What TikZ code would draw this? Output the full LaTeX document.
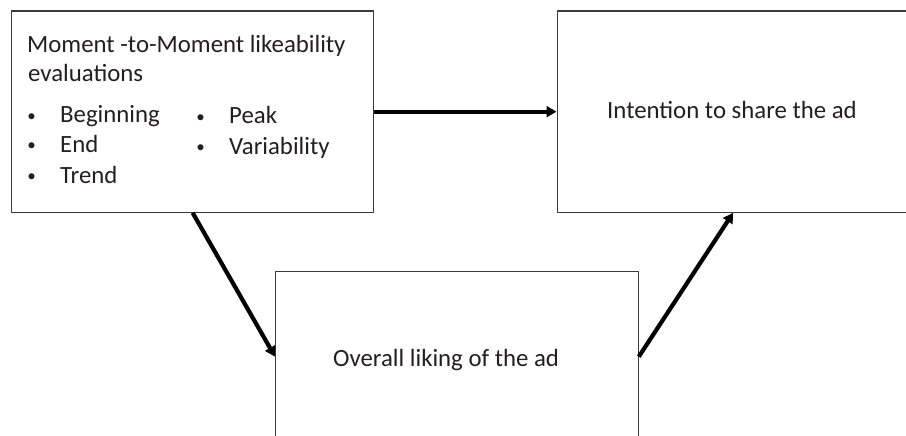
\documentclass[tikz,border=0pt]{standalone}
\usepackage{fontspec}
\setmainfont{Carlito}
\usetikzlibrary{arrows.meta}
\definecolor{txtgray}{HTML}{231F20}
\definecolor{boxgray}{HTML}{3A3A3A}

\begin{document}
\begin{tikzpicture}[x=1pt,y=-1pt,line cap=round,line join=round,
    box/.style={draw=boxgray,line width=1.3pt,anchor=north west,inner sep=0pt},
    lbl/.style={inner sep=0pt,text=txtgray,font=\fontsize{24.8}{29}\selectfont},
    dot/.style={inner sep=0pt,text=txtgray,font=\fontsize{17}{20}\selectfont},
    link/.style={draw=black,line width=4.2pt,line cap=butt,-{Triangle[length=10pt,width=11pt]}}]
\useasboundingbox (0,0) rectangle (906,436);
\clip (0,0) rectangle (906,436);
% the three boxes
\node[box,minimum width=362pt,minimum height=201pt] (mtm) at (11,10.5) {};
\node[box,minimum width=352pt,minimum height=201pt] (share) at (556.5,10.5) {};
\node[box,minimum width=362.5pt,minimum height=170pt] (liking) at (275,271) {};
% texts
\node[lbl,anchor=base west] (title1) at (27,53) {Moment -to-Moment likeability};
\node[lbl,anchor=base west] (title2) at (28,82) {evaluations};
\foreach \px/\py/\item in {60/123/Beginning,60/152/End,60/183/Trend,229/124/Peak,229/154/Variability}{
  \node[dot,anchor=base] (b\item) at (\px-28.5,\py-1.5) {\textbullet};
  \node[lbl,anchor=base west] (\item) at (\px,\py) {\item};
}
\node[lbl,anchor=base west] (sharetxt) at (607,118) {Intention to share the ad};
\node[lbl,anchor=base west] (likingtxt) at (333,366) {Overall liking of the ad};
% arrows
\draw[link] (mtm.east) -- (share.west);
\draw[link] (mtm.south) -- (liking.west);
\draw[link] (liking.east) -- (share.south);
\end{tikzpicture}
\end{document}
